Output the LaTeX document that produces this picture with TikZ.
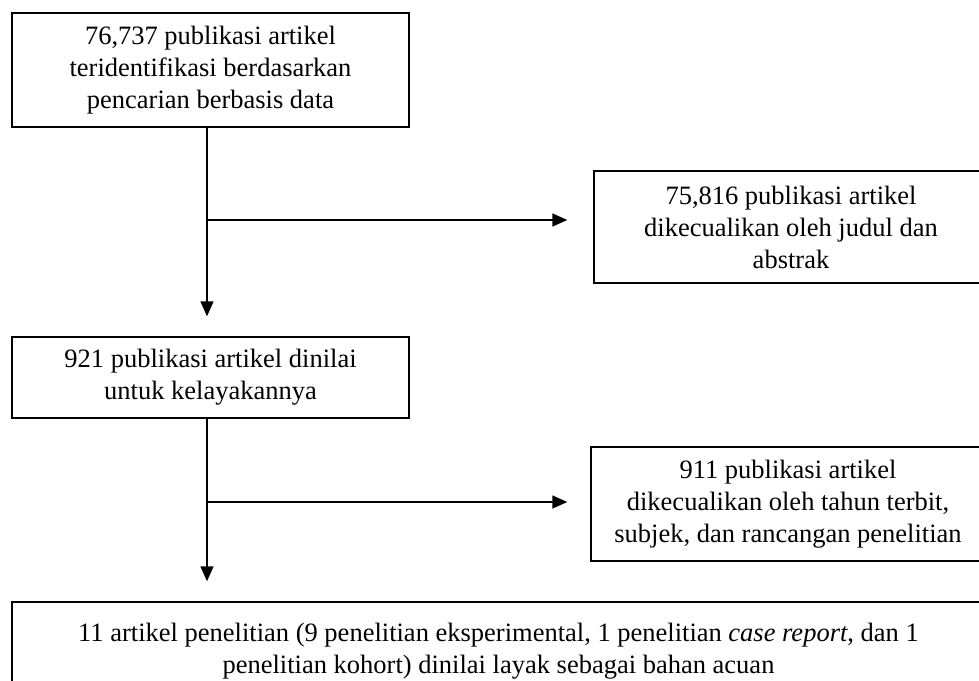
\documentclass[tikz,border=0pt]{standalone}
\usepackage{fontspec}
\setmainfont{Liberation Serif}
\usetikzlibrary{arrows.meta}
\tikzset{
  box/.style={draw=black, line width=1.4pt, align=center, inner sep=0pt,
    font=\fontsize{26.5}{32}\selectfont},
  conn/.style={draw=black, line width=1.4pt},
  arr/.style={conn, -{Triangle[length=15pt,width=13pt]}},
}
\begin{document}
\begin{tikzpicture}[x=1pt,y=-1pt]
\useasboundingbox (0,0) rectangle (979,680);
\clip (0,0) rectangle (979,680);
\fill[white] (0,0) rectangle (979,680);

\node[box, minimum width=397pt, minimum height=114pt] (b1) at (210.5,70)
  {76,737 publikasi artikel\\teridentifikasi berdasarkan\\pencarian berbasis data};
\node[box, minimum width=394pt, minimum height=112pt] (b2) at (791,227)
  {75,816 publikasi artikel\\dikecualikan oleh judul dan\\abstrak};
\node[box, minimum width=397pt, minimum height=81pt] (b3) at (210.5,377.5)
  {921 publikasi artikel dinilai\\untuk kelayakannya};
\node[box, minimum width=394pt, minimum height=114pt] (b4) at (788,504)
  {911 publikasi artikel\\dikecualikan oleh tahun terbit,\\subjek, dan rancangan penelitian};
\node[box, minimum width=973pt, minimum height=98pt] (b5) at (498.5,651)
  {11 artikel penelitian (9 penelitian eksperimental, 1 penelitian \textit{case report}, dan 1\\penelitian kohort) dinilai layak sebagai bahan acuan};

\coordinate (j1) at (207,220);
\coordinate (j2) at (207,502);

\draw[conn] (b1.south -| j1) -- (j1);
\draw[arr, shorten >=20pt] (j1) -- (b3.north -| j1);
\draw[arr, shorten >=26pt] (j1) -- (b2.west |- j1);

\draw[conn] (b3.south -| j2) -- (j2);
\draw[arr, shorten >=20pt] (j2) -- (b5.north -| j2);
\draw[arr, shorten >=23pt] (j2) -- (b4.west |- j2);
\end{tikzpicture}
\end{document}
